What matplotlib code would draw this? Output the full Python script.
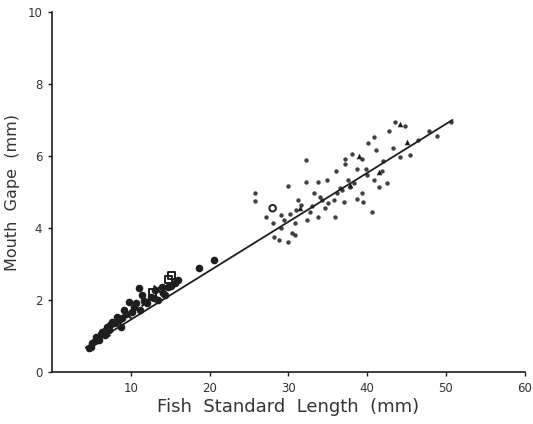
import numpy as np
import matplotlib
matplotlib.use('Agg')
import matplotlib.pyplot as plt

# fish standard length (mm) vs mouth gape (mm)
# small fish, filled dots
small_x = [4.7, 4.9, 5.1, 5.4, 5.6, 6.0, 6.2, 6.4, 6.7, 7.0, 7.2, 7.4, 7.6, 8.0, 8.3,
           8.5, 8.7, 8.9, 9.1, 9.4, 9.8, 10.2, 10.4, 10.6, 11.0, 11.2, 11.4, 11.7, 12.1,
           12.5, 12.9, 13.1, 13.5, 13.9, 14.1, 14.4, 14.7, 15.1, 15.6, 16.0, 18.6, 20.5]
small_y = [0.66, 0.70, 0.80, 0.86, 0.98, 0.89, 1.05, 1.12, 1.02, 1.26, 1.17, 1.30, 1.40, 1.35, 1.54,
           1.45, 1.26, 1.49, 1.72, 1.62, 1.95, 1.68, 1.80, 1.91, 2.33, 1.72, 2.14, 1.98, 1.91,
           2.09, 2.05, 2.28, 2.00, 2.37, 2.20, 2.14, 2.35, 2.40, 2.46, 2.55, 2.88, 3.11]
# small fish, open squares / crosses
sq_x = [15.2, 14.8, 12.8]
sq_y = [2.69, 2.56, 2.20]
cross_x = [6.8, 9.5, 11.8, 13.3]
cross_y = [1.10, 1.60, 1.95, 2.30]

# large fish, scattered dots
big_x = [43.5, 44.8, 42.8, 50.6, 48.8, 40.8, 40.1, 41.1, 38.1, 43.3, 44.2, 45.4,
         32.2, 39.3, 37.2, 37.2, 36.1, 38.7, 41.9, 40.0, 40.9, 42.5, 41.5, 38.3,
         39.3, 37.5, 34.9, 33.7, 32.2, 29.9, 25.8, 25.8, 31.2, 31.6, 32.8, 33.7,
         34.7, 34.3, 33.3, 36.2, 35.8, 37.0, 38.7, 39.5, 35.9, 40.6, 32.4, 30.8,
         29.5, 29.1, 30.5, 28.2, 28.8, 29.9, 30.8, 28.0, 46.5, 47.8, 35.0, 36.8,
         30.2, 31.0, 33.0, 34.0, 36.5, 37.8, 39.8, 42.0, 27.2, 29.0]
big_y = [6.95, 6.83, 6.70, 6.95, 6.56, 6.54, 6.35, 6.17, 6.06, 6.21, 5.96, 6.03,
         5.89, 5.93, 5.93, 5.78, 5.59, 5.63, 5.59, 5.47, 5.33, 5.24, 5.13, 5.24,
         4.96, 5.33, 5.33, 5.29, 5.29, 5.17, 4.96, 4.76, 4.78, 4.64, 4.45, 4.31,
         4.55, 4.78, 4.96, 4.96, 4.78, 4.73, 4.82, 4.73, 4.31, 4.45, 4.22, 4.13,
         4.22, 3.99, 3.85, 3.76, 3.67, 3.62, 3.80, 4.13, 6.45, 6.70, 4.70, 5.05,
         4.40, 4.50, 4.62, 4.85, 5.10, 5.15, 5.65, 5.85, 4.30, 4.35]
# large fish, triangles / open circles
tri_x = [44.2, 37.8, 41.5, 31.5, 45.0, 39.0]
tri_y = [6.90, 5.20, 5.55, 4.55, 6.40, 6.00]
circ_x = [28.0]
circ_y = [4.55]

# fitted line end points
line_x = [4.3, 50.8]
line_y = [0.68, 7.00]

ink = '#1e1e1e'
plt.rcParams['font.family'] = ['DejaVu Sans']

fig = plt.figure(figsize=(5.33, 4.24), dpi=100)
ax = fig.add_axes([0.0976, 0.1226, 0.887, 0.849])

ax.plot(line_x, line_y, color=ink, lw=1.3)
ax.scatter(small_x, small_y, s=30, color=ink, marker='o', lw=0)
ax.scatter(sq_x, sq_y, s=26, facecolor='none', edgecolor=ink, marker='s', lw=1.4)
ax.scatter(cross_x, cross_y, s=30, color=ink, marker='x', lw=1.6)
ax.scatter(big_x, big_y, s=10, color=ink, marker='o', lw=0, alpha=0.85)
ax.scatter(tri_x, tri_y, s=16, color=ink, marker='^', lw=0)
ax.scatter(circ_x, circ_y, s=22, facecolor='none', edgecolor=ink, marker='o', lw=1.4)

ax.set_xlim(0, 60)
ax.set_ylim(0, 10)
ax.set_xticks([10, 20, 30, 40, 50, 60])
ax.set_yticks([0, 2, 4, 6, 8, 10])
ax.spines['top'].set_visible(False)
ax.spines['right'].set_visible(False)
for s in ['left', 'bottom']:
    ax.spines[s].set_color(ink)
    ax.spines[s].set_linewidth(1.2)
ax.tick_params(direction='out', length=3, width=1, colors=ink, labelsize=8.5, pad=4)
ax.tick_params(axis='x', labelcolor='#333333')
ax.tick_params(axis='y', labelcolor='#333333')

ax.set_xlabel('Fish  Standard  Length  (mm)', fontsize=13, color='#333333', labelpad=2)
ax.set_ylabel('Mouth  Gape  (mm)', fontsize=11.5, color='#333333', labelpad=5)

fig.savefig('out.png', dpi=100)
